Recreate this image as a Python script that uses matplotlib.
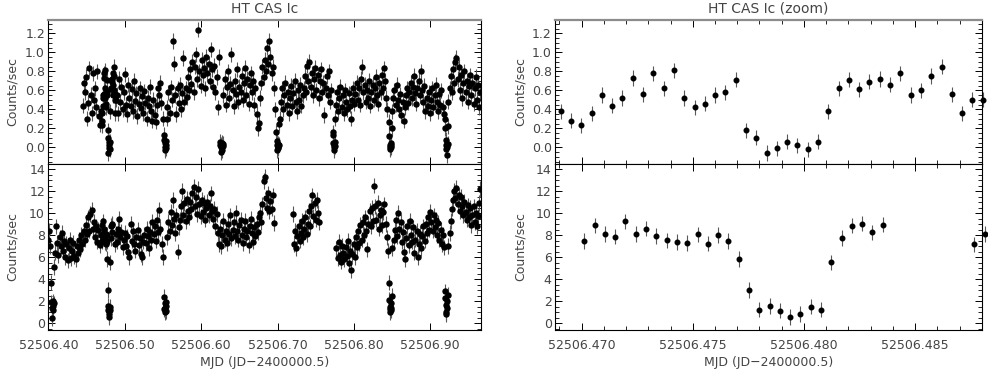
#!/usr/bin/env python3
# Curva de luz HT CAS banda Ic - painel completo e zoom no eclipse
import numpy as np
import matplotlib
matplotlib.use("Agg")
from matplotlib import pyplot as plt
from matplotlib.ticker import MultipleLocator, FormatStrFormatter, NullLocator

BIN = 40.0 / 86400.0   # bins de 40 s
CO = 0.0015            # bins mais largos fora do zoom

# ---------------- painel de cima (Counts/sec) ----------------
top_start = [52506.4446, 52506.46906, 52506.4895, 52506.5511, 52506.5556,
             52506.6247, 52506.6291, 52506.6984, 52506.7028, 52506.7720,
             52506.7764, 52506.8457, 52506.8501, 52506.9193, 52506.9237]
top_step = [CO, BIN, CO, BIN, CO, BIN, CO, BIN, CO, BIN, CO, BIN, CO, BIN, CO]
top_rate = [
    [0.44, 0.68, 0.58, 0.74, 0.30, 0.47, 0.83, 0.55, 0.36, 0.78, 0.50, 0.62, 0.42, 0.80, 0.33, 0.24],
    [0.38, 0.28, 0.23, 0.36, 0.55, 0.44, 0.52, 0.73, 0.56, 0.78, 0.62, 0.81, 0.52, 0.42, 0.46, 0.55,
     0.58, 0.71, 0.18, 0.10, -0.06, -0.01, 0.06, 0.02, -0.02, 0.06, 0.38, 0.62, 0.71, 0.61, 0.69,
     0.72, 0.66, 0.78, 0.55, 0.60, 0.75, 0.85, 0.56, 0.36, 0.50, 0.50],
    [0.55, 0.36, 0.72, 0.48, 0.63, 0.40, 0.58, 0.77, 0.45, 0.35, 0.66, 0.52, 0.43, 0.61, 0.38, 0.70,
     0.49, 0.57, 0.33, 0.46, 0.62, 0.41, 0.54, 0.36, 0.59, 0.47, 0.30, 0.52, 0.44, 0.64, 0.38, 0.28,
     0.50, 0.34, 0.27, 0.45, 0.62, 0.55, 0.68, 0.47, 0.30],
    [0.13, 0.08, 0.00, -0.03, 0.05, 0.02, -0.01, 0.07, 0.30],
    [0.42, 0.58, 0.36, 0.63, 0.50, 1.12, 0.88, 0.55, 0.35, 0.62, 0.47, 0.66, 0.40, 0.57, 0.94, 0.48,
     0.62, 0.53, 0.74, 0.60, 0.82, 0.67, 0.90, 0.58, 0.85, 0.98, 0.72, 1.24, 0.80, 0.65, 0.92, 0.76,
     0.84, 0.62, 0.95, 0.78, 0.88, 0.70, 1.03, 0.82, 0.64, 0.86, 0.58, 0.74, 0.42, 0.95],
    [0.06, 0.02, -0.05, 0.00, 0.03, -0.03, 0.05, 0.01, 0.04],
    [0.55, 0.72, 0.45, 0.63, 0.80, 0.52, 0.67, 0.98, 0.60, 0.43, 0.70, 0.56, 0.82, 0.48, 0.64, 0.58,
     0.75, 0.50, 0.68, 0.84, 0.55, 0.72, 0.46, 0.66, 0.78, 0.58, 0.70, 0.45, 0.62, 0.35, 0.20, 0.26,
     0.52, 0.68, 0.85, 0.74, 0.92, 0.80, 1.05, 0.88, 1.12, 0.95, 0.78, 0.85, 0.62, 0.40],
    [0.16, 0.07, 0.02, -0.03, 0.00, 0.04, -0.01, 0.03, 0.25],
    [0.30, 0.48, 0.62, 0.40, 0.55, 0.68, 0.45, 0.58, 0.36, 0.52, 0.65, 0.43, 0.57, 0.70, 0.48, 0.38,
     0.60, 0.50, 0.66, 0.44, 0.55, 0.62, 0.75, 0.58, 0.86, 0.70, 0.90, 0.64, 0.78, 0.55, 0.72, 0.84,
     0.60, 0.76, 0.52, 0.70, 0.82, 0.58, 0.68, 0.34, 0.62, 0.75, 0.55, 0.80, 0.48, 0.60],
    [0.16, 0.13, 0.05, 0.00, 0.02, -0.03, 0.01, 0.06, 0.30],
    [0.45, 0.58, 0.38, 0.52, 0.64, 0.42, 0.55, 0.36, 0.60, 0.48, 0.40, 0.57, 0.44, 0.30, 0.50, 0.62,
     0.46, 0.56, 0.68, 0.50, 0.62, 0.45, 0.72, 0.85, 0.58, 0.66, 0.48, 0.60, 0.52, 0.70, 0.44, 0.58,
     0.66, 0.50, 0.62, 0.74, 0.55, 0.46, 0.68, 0.58, 0.76, 0.62, 0.83, 0.70, 0.52, 0.40],
    [0.27, 0.12, 0.03, 0.00, -0.02, 0.02, 0.00, 0.05, 0.20],
    [0.38, 0.52, 0.60, 0.45, 0.66, 0.50, 0.40, 0.56, 0.34, 0.48, 0.28, 0.42, 0.55, 0.62, 0.47, 0.58,
     0.68, 0.52, 0.64, 0.75, 0.57, 0.46, 0.62, 0.70, 0.55, 0.80, 0.60, 0.48, 0.65, 0.38, 0.52, 0.44,
     0.58, 0.36, 0.50, 0.62, 0.42, 0.55, 0.66, 0.48, 0.38, 0.56, 0.45, 0.60, 0.42, 0.35],
    [0.30, 0.20, 0.08, 0.02, -0.02, 0.00, -0.08, 0.04, 0.22],
    [0.48, 0.62, 0.75, 0.58, 0.82, 0.68, 0.90, 0.94, 0.72, 0.85, 0.60, 0.76, 0.52, 0.68, 0.80, 0.58,
     0.70, 0.48, 0.65, 0.76, 0.55, 0.68, 0.46, 0.62, 0.74, 0.50, 0.66, 0.42, 0.58],
]
top_err = 0.08

# ---------------- painel de baixo (Counts/sec) ----------------
bot_start = [52506.3990, 52506.4035, 52506.4085, 52506.47012, 52506.48766, 52506.4896,
             52506.5511, 52506.5556, 52506.7200, 52506.7770, 52506.8457, 52506.8505,
             52506.9193, 52506.9237]
bot_step = [CO, BIN, CO, BIN, BIN, CO, BIN, CO, CO, CO, BIN, CO, BIN, CO]
bot_rate = [
    [7.6, 8.4, 7.0],
    [3.7, 1.9, 1.4, 0.5, 1.2, 2.0, 1.6, 1.8, 5.1],
    [6.4, 8.8, 7.3, 6.2, 7.8, 7.0, 8.2, 6.6, 7.5, 6.0, 7.2, 5.7, 6.8, 7.6, 5.9, 6.6, 7.3, 6.1, 5.8,
     7.0, 6.4, 7.6, 6.7, 8.0, 7.2, 8.4, 7.6, 8.9, 8.1, 9.6, 8.4, 9.9, 10.3, 8.6, 9.2, 7.8, 8.8, 7.4,
     8.5, 7.1, 8.0],
    [7.45, 8.88, 8.12, 7.85, 9.24, 8.09, 8.58, 7.94, 7.52, 7.39, 7.27, 8.06, 7.24, 8.03, 7.45, 5.82,
     3.03, 1.24, 1.58, 1.15, 0.58, 0.85, 1.52, 1.24, 5.52, 7.73, 8.85, 9.03, 8.24, 8.94],
    [7.15, 8.12],
    [7.4, 8.6, 9.5, 7.8, 8.3, 6.9, 7.6, 8.2, 7.0, 7.9, 6.5, 6.0, 9.0, 7.5, 8.4, 7.2, 6.6, 7.8, 8.5,
     7.1, 7.7, 6.3, 6.0, 7.4, 8.0, 7.3, 8.6, 7.9, 6.8, 8.3, 7.6, 9.2, 8.1, 8.8, 7.5, 9.4, 8.3, 10.3,
     8.6, 7.2, 6.0],
    [2.4, 1.3, 1.8, 1.0, 1.4, 1.6, 1.1, 1.9],
    [7.8, 9.2, 8.4, 10.1, 8.9, 11.2, 9.5, 8.2, 9.8, 6.5, 8.7, 9.4, 10.6, 12.0, 9.8, 10.9, 9.3, 11.3,
     10.2, 9.6, 11.0, 10.4, 11.8, 12.4, 10.6, 11.5, 9.9, 12.2, 10.8, 9.7, 11.2, 10.1, 10.9, 9.4, 10.5,
     11.0, 9.8, 10.6, 11.8, 10.2, 9.5, 10.4, 8.8, 9.9, 8.2, 7.2, 8.6, 7.0, 8.0, 9.3, 7.6, 8.4, 7.3,
     9.0, 8.1, 9.8, 7.7, 8.5, 9.2, 7.9, 10.0, 8.4, 7.6, 8.9, 9.4, 8.0, 7.3, 8.6, 9.3, 7.8, 8.4, 7.1,
     8.8, 9.5, 8.2, 7.4, 8.7, 7.9, 9.0, 8.3, 9.6, 10.0, 9.2, 10.8, 12.9, 13.3, 11.4, 10.5, 11.8, 10.2,
     11.1, 10.4, 11.6, 9.1],
    [9.9, 7.2, 8.4, 6.8, 7.9, 8.8, 7.5, 8.2, 9.3, 7.8, 8.6, 9.6, 8.1, 9.0, 10.2, 8.8, 10.6, 11.6, 9.7,
     10.9, 9.4, 11.2, 10.0, 9.2],
    [6.8, 5.9, 7.4, 6.2, 5.6, 7.0, 6.4, 5.8, 6.9, 6.1, 7.5, 5.5, 6.6, 4.8, 6.3, 7.2, 6.0, 7.8, 6.9,
     8.4, 7.3, 8.9, 7.6, 9.2, 8.0, 9.6, 8.4, 6.7, 9.0, 10.2, 8.8, 10.5, 9.3, 12.5, 10.6, 9.4, 10.9,
     8.6, 9.8, 10.3, 8.9, 10.1, 10.8, 9.0, 7.8, 6.6],
    [3.7, 2.1, 1.3, 1.0, 1.5, 1.2, 1.8, 1.4, 2.5],
    [6.8, 7.6, 8.5, 9.4, 7.9, 10.0, 8.6, 9.2, 7.4, 8.3, 6.5, 5.8, 7.7, 8.8, 7.1, 9.3, 8.0, 7.4, 8.7,
     6.4, 7.6, 8.4, 6.0, 7.2, 8.1, 6.8, 7.9, 8.8, 7.5, 9.0, 8.2, 9.6, 8.5, 10.1, 9.2, 8.4, 9.8, 8.7,
     9.4, 8.0, 9.1, 7.6, 8.5, 7.2, 8.0, 6.9],
    [2.9, 2.3, 1.7, 1.0, 0.8, 1.4, 2.0, 2.6],
    [7.0, 8.2, 9.3, 10.4, 11.2, 12.0, 11.4, 12.3, 10.8, 11.6, 10.2, 11.5, 10.6, 9.8, 11.0, 10.1, 9.4,
     10.7, 9.6, 10.5, 8.9, 9.8, 10.6, 9.2, 10.0, 8.8, 9.7, 10.9, 12.2],
]
bot_err = 0.7


def junta(starts, steps, rates):
    t, y = [], []
    for t0, dt, r in zip(starts, steps, rates):
        t.extend(t0 + dt * np.arange(len(r)))
        y.extend(r)
    return np.array(t), np.array(y)


t_top, y_top = junta(top_start, top_step, top_rate)
t_bot, y_bot = junta(bot_start, bot_step, bot_rate)

txt = "#444444"
plt.rcParams["font.family"] = "DejaVu Sans"
plt.rcParams["font.size"] = 9

W, H = 988.0, 369.0
fig = plt.figure(figsize=(W / 100, H / 100), dpi=100)

def eixo(x0, x1, y0, y1):
    return fig.add_axes([x0 / W, 1 - y1 / H, (x1 - x0) / W, (y1 - y0) / H])

axTL = eixo(47.7, 480.7, 20.0, 163.7)
axBL = eixo(47.7, 480.7, 163.7, 329.7)
axTR = eixo(554.5, 982.0, 20.0, 163.7)
axBR = eixo(554.5, 982.0, 163.7, 329.7)

xl_full = (52506.399, 52506.966)
xl_zoom = (52506.46878, 52506.48801)

for ax, t, y, e, zoom in [(axTL, t_top, y_top, top_err, False), (axTR, t_top, y_top, top_err, True),
                          (axBL, t_bot, y_bot, bot_err, False), (axBR, t_bot, y_bot, bot_err, True)]:
    if zoom:
        # no zoom o simbolo da borda aparece inteiro
        m = (t > xl_zoom[0] - 0.0001) & (t < xl_zoom[1] + 0.00015)
        ax.errorbar(t[m], y[m], yerr=e, fmt="o", ms=3.3, mfc="k", mec="k", ecolor="0.35",
                    elinewidth=0.8, capsize=0, clip_on=False)
    else:
        ax.errorbar(t, y, yerr=e, fmt="o", ms=3.6, mfc="k", mec="k", ecolor="0.35",
                    elinewidth=0.8, capsize=0)
    ax.tick_params(which="both", direction="in", top=True, right=True, colors="k",
                   labelcolor=txt, labelsize=9)
    ax.tick_params(which="major", length=5, width=0.7)
    ax.tick_params(which="minor", length=3, width=0.6)
    ax.tick_params(axis="x", pad=6.5)
    ax.tick_params(axis="y", pad=2)
    for s in ax.spines.values():
        s.set_linewidth(0.8)
    ax.set_ylabel("Counts/sec", color=txt, fontsize=9)
    ax.yaxis.set_label_coords(-0.066, 0.5)

for ax in (axTL, axTR):
    ax.set_ylim(-0.172, 1.34)
    ax.yaxis.set_major_locator(MultipleLocator(0.2))
    ax.yaxis.set_minor_locator(MultipleLocator(0.05))
    ax.yaxis.set_major_formatter(FormatStrFormatter("%.1f"))
    ax.tick_params(labelbottom=False)
    ax.spines["top"].set_color("0.55")
    ax.spines["top"].set_linewidth(1.6)

for ax in (axBL, axBR):
    ax.set_ylim(-0.58, 14.48)
    ax.yaxis.set_major_locator(MultipleLocator(2))
    ax.yaxis.set_minor_locator(MultipleLocator(0.5))
    ax.set_xlabel("MJD (JD\u22122400000.5)", color=txt, fontsize=9, labelpad=3)

for ax in (axTL, axBL):
    ax.set_xlim(*xl_full)
    ax.xaxis.set_major_locator(MultipleLocator(0.1))
    ax.xaxis.set_minor_locator(NullLocator())
    ax.xaxis.set_major_formatter(FormatStrFormatter("%.2f"))

for ax in (axTR, axBR):
    ax.set_xlim(*xl_zoom)
    ax.xaxis.set_major_locator(MultipleLocator(0.005))
    ax.xaxis.set_minor_locator(MultipleLocator(0.001))
    ax.xaxis.set_major_formatter(FormatStrFormatter("%.3f"))

fig.text((47.7 + 480.7) / 2 / W, 1 - 9 / H, "HT CAS Ic", ha="center", va="center",
         color=txt, fontsize=10)
fig.text((554.5 + 982.0) / 2 / W, 1 - 9 / H, "HT CAS Ic (zoom)", ha="center", va="center",
         color=txt, fontsize=10)

plt.savefig("out.png", dpi=100)
